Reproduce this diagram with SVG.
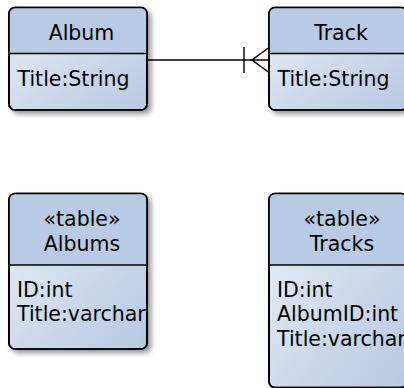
<svg xmlns="http://www.w3.org/2000/svg" width="404" height="388" viewBox="0 0 404 388">
  <style>
    .box { fill: url(#bodyFill); stroke: #000; stroke-width: 1.7; }
    .shade { filter: url(#shadow); }
    .head { fill: #b9cae4; }
    .rule { stroke: #000; stroke-width: 1.6; fill: none; }
    .label { font-family: "DejaVu Sans", sans-serif; font-size: 20.5px; fill: #000; }
    .title { text-anchor: middle; }
    .edge { stroke: #000; stroke-width: 1.4; fill: none; }
  </style>
  <defs>
    <linearGradient id="bodyFill" x1="0" y1="0" x2="1" y2="1">
      <stop offset="0" stop-color="#eaeff8"/>
      <stop offset="1" stop-color="#b6c8e2"/>
    </linearGradient>
    <filter id="shadow" x="-10%" y="-10%" width="130%" height="130%">
      <feDropShadow dx="3.5" dy="3.5" stdDeviation="2.6" flood-color="#000" flood-opacity="0.4"/>
    </filter>
    <marker id="oneOrMany" viewBox="-28 -15 30 30" refX="0" refY="0" markerWidth="30" markerHeight="30" markerUnits="userSpaceOnUse" orient="auto" overflow="visible">
      <path d="M-25,-13 V13 M0,-12.5 L-17,0 L0,12.5" stroke="#000" stroke-width="1.4" fill="none"/>
    </marker>
    <clipPath id="clipAlbums"><rect x="9" y="193.5" width="137" height="155.5" rx="6"/></clipPath>
    <clipPath id="clipTracks"><rect x="269" y="193.5" width="137" height="194" rx="6"/></clipPath>
  </defs>

  <!-- connectors -->
  <g id="connectors">
    <path class="edge" d="M147,60 H269" marker-end="url(#oneOrMany)"/>
  </g>

  <!-- class Album -->
  <g id="album">
    <rect class="box shade" x="9" y="7.5" width="138" height="102.5" rx="6"/>
    <path class="head" d="M9,53.5 V13.5 Q9,7.5 15,7.5 H141 Q147,7.5 147,13.5 V53.5 Z"/>
    <rect class="box" x="9" y="7.5" width="138" height="102.5" rx="6" style="fill:none"/>
    <line class="rule" x1="9" y1="53.5" x2="147" y2="53.5"/>
    <text class="label title" x="81.5" y="39.5">Album</text>
    <text class="label" x="17.5" y="86">Title:String</text>
  </g>

  <!-- class Track -->
  <g id="track">
    <rect class="box shade" x="269" y="7.5" width="138" height="102.5" rx="6"/>
    <path class="head" d="M269,53.5 V13.5 Q269,7.5 275,7.5 H401 Q407,7.5 407,13.5 V53.5 Z"/>
    <rect class="box" x="269" y="7.5" width="138" height="102.5" rx="6" style="fill:none"/>
    <line class="rule" x1="269" y1="53.5" x2="407" y2="53.5"/>
    <text class="label title" x="341" y="39.5">Track</text>
    <text class="label" x="277.5" y="86">Title:String</text>
  </g>

  <!-- table Albums -->
  <g id="albums">
    <rect class="box shade" x="9" y="193.5" width="138" height="155.5" rx="6"/>
    <path class="head" d="M9,265 V199.5 Q9,193.5 15,193.5 H141 Q147,193.5 147,199.5 V265 Z"/>
    <g clip-path="url(#clipAlbums)">
      <text class="label title" x="82" y="225.5">«table»</text>
      <text class="label title" x="82" y="250.5">Albums</text>
      <text class="label" x="17" y="296.5">ID:int</text>
      <text class="label" x="17" y="321">Title:varchar</text>
    </g>
    <rect class="box" x="9" y="193.5" width="138" height="155.5" rx="6" style="fill:none"/>
    <line class="rule" x1="9" y1="265" x2="147" y2="265"/>
  </g>

  <!-- table Tracks -->
  <g id="tracks">
    <rect class="box shade" x="269" y="193.5" width="138" height="194" rx="6"/>
    <path class="head" d="M269,265 V199.5 Q269,193.5 275,193.5 H401 Q407,193.5 407,199.5 V265 Z"/>
    <g clip-path="url(#clipTracks)">
      <text class="label title" x="342" y="225.5">«table»</text>
      <text class="label title" x="342" y="250.5">Tracks</text>
      <text class="label" x="277" y="296.5">ID:int</text>
      <text class="label" x="277" y="321">AlbumID:int</text>
      <text class="label" x="277" y="345.5">Title:varchar</text>
    </g>
    <rect class="box" x="269" y="193.5" width="138" height="194" rx="6" style="fill:none"/>
    <line class="rule" x1="269" y1="265" x2="407" y2="265"/>
  </g>
</svg>
